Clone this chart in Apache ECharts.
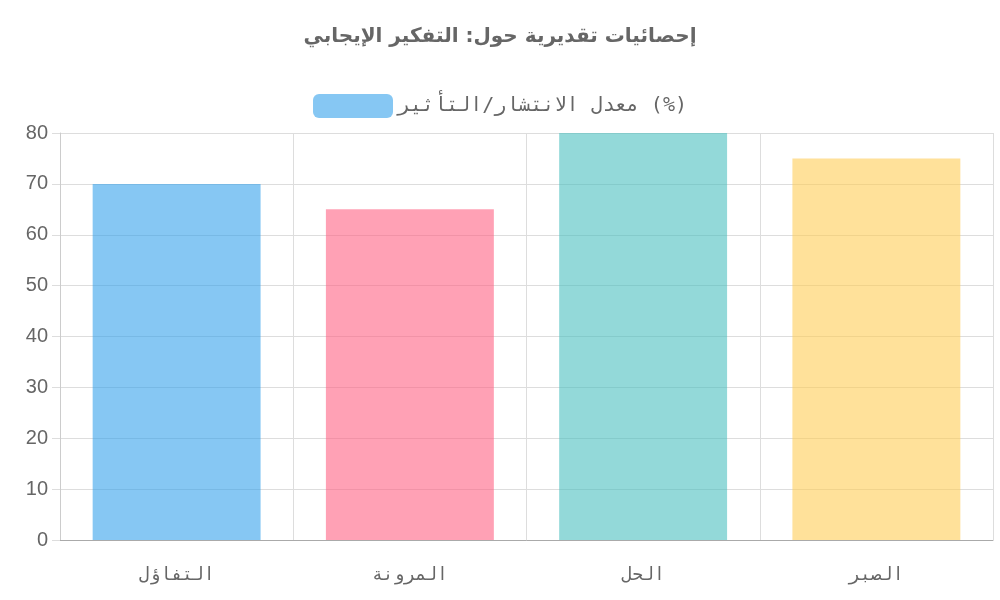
<!DOCTYPE html>
<html><head><meta charset="utf-8">
<script src="https://cdn.jsdelivr.net/npm/echarts@6/dist/echarts.min.js"></script>
<style>html,body{margin:0;padding:0;background:#fff}#c{width:1000px;height:600px}</style>
</head><body><div id="c"></div>
<script>
const categories = ['التفاؤل', 'المرونة', 'الحل', 'الصبر'];
const values = [70, 65, 80, 75];
const colors = ['rgba(54,162,235,0.6)', 'rgba(255,99,132,0.6)', 'rgba(75,192,192,0.6)', 'rgba(255,205,86,0.6)'];
const seriesName = 'معدل الانتشار/التأثير (%)';
const titleText = 'إحصائيات تقديرية حول: التفكير الإيجابي';

const chart = echarts.init(document.getElementById('c'));
chart.setOption({
  animation: false,
  title: { text: titleText, left: 'center', top: 22, textStyle: { fontSize: 20, fontWeight: 'bold', color: '#666', fontFamily: 'DejaVu Sans' } },
  legend: { top: 89, left: 'center', itemWidth: 80, itemHeight: 24, itemGap: 10,
    textStyle: { fontSize: 20, color: '#666', fontFamily: 'DejaVu Sans Mono' },
    data: [{ name: seriesName, itemStyle: { color: colors[0] } }] },
  grid: { left: 60, right: 7, top: 133, bottom: 60 },
  xAxis: { type: 'category', data: categories, boundaryGap: true,
    axisLine: { lineStyle: { color: '#aaa' } },
    axisTick: { length: 18, lineStyle: { color: '#ccc' } },
    splitLine: { show: true, lineStyle: { color: '#ddd' } },
    axisLabel: { fontSize: 18, color: '#666', fontFamily: 'DejaVu Sans Mono', margin: 26 } },
  yAxis: { type: 'value', min: 0, max: 80, interval: 10,
    axisLine: { show: true, lineStyle: { color: '#ccc' } },
    axisTick: { show: true, length: 8, lineStyle: { color: '#ddd' } },
    splitLine: { lineStyle: { color: '#ddd' } },
    axisLabel: { fontSize: 20, color: '#666', fontFamily: 'Liberation Sans', margin: 12 } },
  series: [{ name: seriesName, type: 'bar', barWidth: '72%',
    data: values.map((v, i) => ({ value: v, itemStyle: { color: colors[i] } })) }]
});
</script></body></html>
